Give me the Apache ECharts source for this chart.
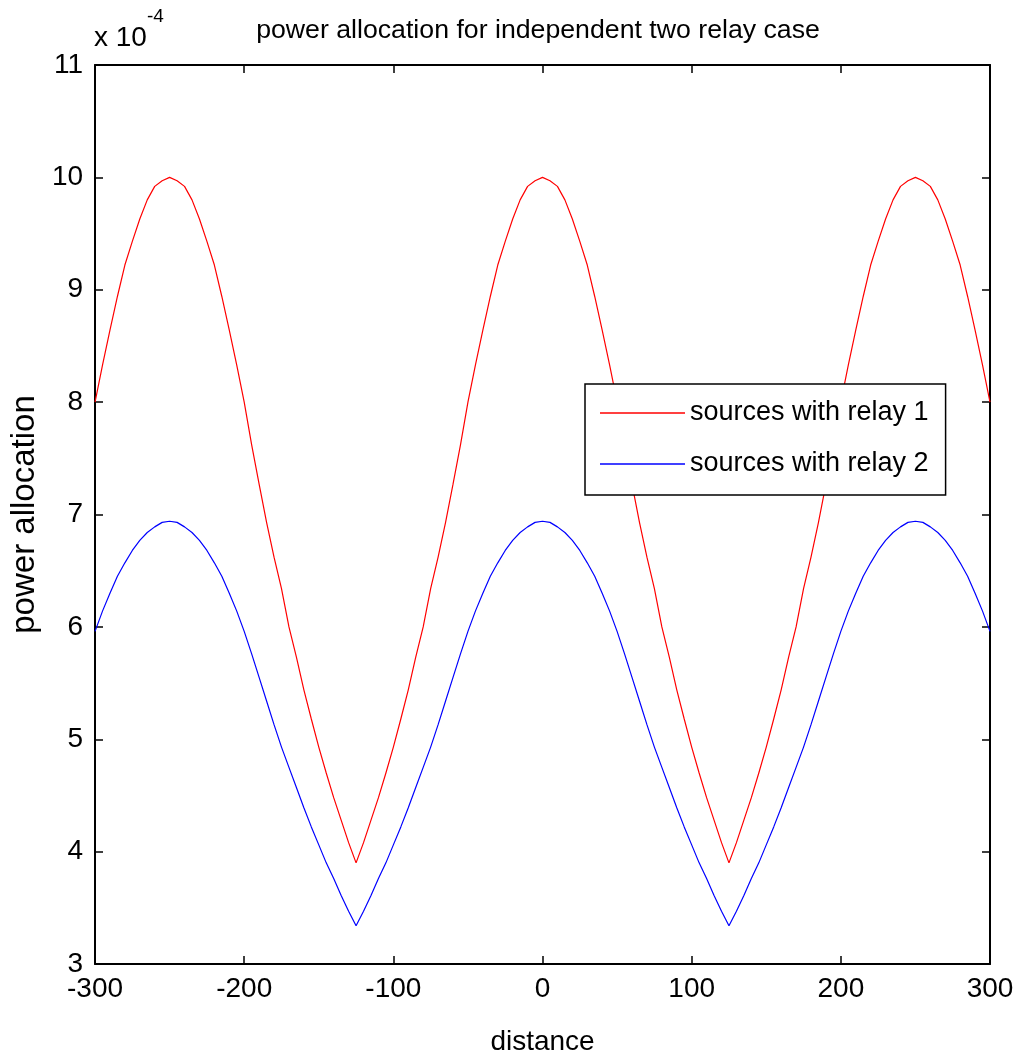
<!DOCTYPE html>
<html><head><meta charset="utf-8">
<script src="https://cdn.jsdelivr.net/npm/echarts@6/dist/echarts.min.js"></script>
<style>html,body{margin:0;padding:0;background:#fff;overflow:hidden}#c{width:1021px;height:1061px}</style>
</head><body><div id="c"></div>
<script>
// x positions (distance)
const distance = [
 -300,-295,-290,-285,-280,-275,-270,-265,-260,-255,-250,-245,-240,-235,-230,-225,-220,-215,-210,-205,
 -200,-195,-190,-185,-180,-175,-170,-165,-160,-155,-150,-145,-140,-135,-130,-125,-120,-115,-110,-105,
 -100,-95,-90,-85,-80,-75,-70,-65,-60,-55,-50,-45,-40,-35,-30,-25,-20,-15,-10,-5,
 0,5,10,15,20,25,30,35,40,45,50,55,60,65,70,75,80,85,90,95,
 100,105,110,115,120,125,130,135,140,145,150,155,160,165,170,175,180,185,190,195,
 200,205,210,215,220,225,230,235,240,245,250,255,260,265,270,275,280,285,290,295,300];
// power allocation, in units of 1e-4
const relay1 = [
 8.00,8.33,8.64,8.94,9.22,9.43,9.63,9.80,9.92,9.97,10.00,9.97,9.92,9.80,9.63,9.43,9.22,8.94,8.64,8.33,
 8.00,7.62,7.27,6.93,6.62,6.34,6.00,5.73,5.44,5.18,4.93,4.70,4.48,4.28,4.08,3.90,4.08,4.28,4.48,4.70,
 4.93,5.18,5.44,5.73,6.00,6.34,6.62,6.93,7.27,7.62,8.00,8.33,8.64,8.94,9.22,9.43,9.63,9.80,9.92,9.97,
 10.00,9.97,9.92,9.80,9.63,9.43,9.22,8.94,8.64,8.33,8.00,7.62,7.27,6.93,6.62,6.34,6.00,5.73,5.44,5.18,
 4.93,4.70,4.48,4.28,4.08,3.90,4.08,4.28,4.48,4.70,4.93,5.18,5.44,5.73,6.00,6.34,6.62,6.93,7.27,7.62,
 8.00,8.33,8.64,8.94,9.22,9.43,9.63,9.80,9.92,9.97,10.00,9.97,9.92,9.80,9.63,9.43,9.22,8.94,8.64,8.33,8.00];
const relay2 = [
 5.96,6.14,6.30,6.45,6.57,6.68,6.77,6.84,6.89,6.93,6.94,6.93,6.89,6.84,6.77,6.68,6.57,6.45,6.30,6.14,
 5.96,5.76,5.55,5.34,5.13,4.93,4.75,4.57,4.39,4.22,4.06,3.90,3.76,3.61,3.47,3.34,3.47,3.61,3.76,3.90,
 4.06,4.22,4.39,4.57,4.75,4.93,5.13,5.34,5.55,5.76,5.96,6.14,6.30,6.45,6.57,6.68,6.77,6.84,6.89,6.93,
 6.94,6.93,6.89,6.84,6.77,6.68,6.57,6.45,6.30,6.14,5.96,5.76,5.55,5.34,5.13,4.93,4.75,4.57,4.39,4.22,
 4.06,3.90,3.76,3.61,3.47,3.34,3.47,3.61,3.76,3.90,4.06,4.22,4.39,4.57,4.75,4.93,5.13,5.34,5.55,5.76,
 5.96,6.14,6.30,6.45,6.57,6.68,6.77,6.84,6.89,6.93,6.94,6.93,6.89,6.84,6.77,6.68,6.57,6.45,6.30,6.14,5.96];
const seriesNames = ['sources with relay 1', 'sources with relay 2'];
const xRange = [-300, 300, 100];
const yRange = [3, 11, 1];
const titleText = 'power allocation for independent two relay case';
const xName = 'distance';
const yName = 'power allocation';

const FONT = '"Liberation Sans", Arial, Helvetica, sans-serif';
const chart = echarts.init(document.getElementById('c'), null, {renderer: 'canvas', width: 1021, height: 1061});
const axisLine = {show: true, onZero: false, lineStyle: {color: '#000', width: 2}};
const tick = {show: true, inside: true, length: 8, lineStyle: {color: '#000', width: 1.5}};
const pairs = arr => arr.map((v, i) => [distance[i], v]);

chart.setOption({
  animation: false,
  backgroundColor: '#fff',
  grid: {left: 93, top: 65, width: 897, height: 904, containLabel: false},
  graphic: [
    {type: 'text', x: 538, y: 31, style: {text: titleText, font: '26.7px ' + FONT, fill: '#000', textAlign: 'center', textVerticalAlign: 'middle'}},
    {type: 'text', left: 94, top: 24, style: {text: 'x 10', font: '28px ' + FONT, fill: '#000'}},
    {type: 'text', left: 147, top: 7, style: {text: '-4', font: '19px ' + FONT, fill: '#000'}}
  ],
  legend: {
    orient: 'vertical', left: 585, top: 384,
    backgroundColor: '#fff', borderColor: '#000', borderWidth: 1.5, borderRadius: 0,
    padding: [14, 17, 16, 15], itemWidth: 85, itemHeight: 1.5, itemGap: 21,
    icon: 'rect',
    textStyle: {fontFamily: FONT, fontSize: 27, color: '#000', lineHeight: 30},
    data: seriesNames
  },
  xAxis: [
    {type: 'value', min: xRange[0], max: xRange[1], interval: xRange[2], position: 'bottom',
     name: xName, nameLocation: 'middle', nameGap: 64,
     nameTextStyle: {fontFamily: FONT, fontSize: 28, color: '#000'},
     axisLine, axisTick: tick, splitLine: {show: false},
     axisLabel: {fontFamily: FONT, fontSize: 28, color: '#000', margin: 11}},
    {type: 'value', min: xRange[0], max: xRange[1], interval: xRange[2], position: 'top',
     axisLine, axisTick: tick, splitLine: {show: false}, axisLabel: {show: false}}
  ],
  yAxis: [
    {type: 'value', min: yRange[0], max: yRange[1], interval: yRange[2], position: 'left',
     name: yName, nameLocation: 'middle', nameGap: 37,
     nameTextStyle: {fontFamily: FONT, fontSize: 33, color: '#000'},
     axisLine, axisTick: tick, splitLine: {show: false},
     axisLabel: {fontFamily: FONT, fontSize: 28, color: '#000', margin: 12}},
    {type: 'value', min: yRange[0], max: yRange[1], interval: yRange[2], position: 'right',
     axisLine, axisTick: tick, splitLine: {show: false}, axisLabel: {show: false}}
  ],
  series: [
    {name: seriesNames[0], type: 'line', xAxisIndex: 0, yAxisIndex: 0, data: pairs(relay1),
     symbol: 'none', smooth: false, color: '#ff0000', lineStyle: {color: '#ff0000', width: 1.2}},
    {name: seriesNames[1], type: 'line', xAxisIndex: 0, yAxisIndex: 0, data: pairs(relay2),
     symbol: 'none', smooth: false, color: '#0000ff', lineStyle: {color: '#0000ff', width: 1.2}}
  ]
});
</script></body></html>
